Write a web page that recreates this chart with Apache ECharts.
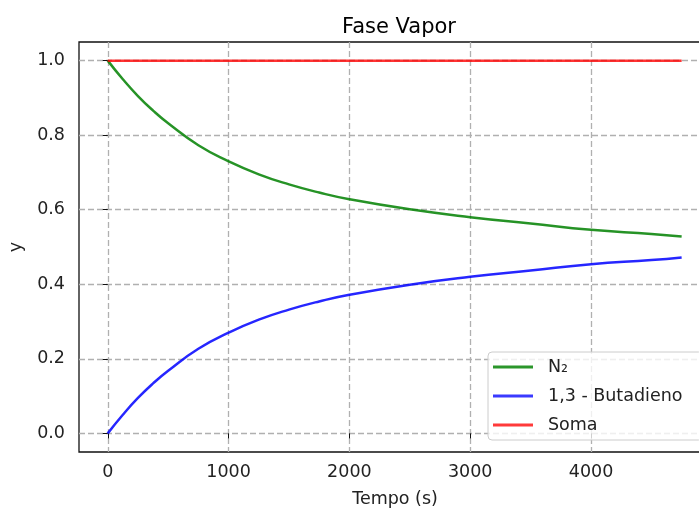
<!DOCTYPE html>
<html>
<head>
<meta charset="utf-8">
<script src="https://cdn.jsdelivr.net/npm/echarts@6/dist/echarts.min.js"></script>
<style>
  html, body { margin: 0; padding: 0; background: #fff; }
  #chart { width: 699px; height: 510px; }
</style>
</head>
<body>
<div id="chart"></div>
<script>
// tempo (s)
const tempo = [0, 125, 250, 375, 500, 750, 1000, 1250, 1500, 1750, 2000, 2500, 3000, 3500, 4000, 4500, 4750];
// fração molar na fase vapor
const yN2 = [1.000, 0.950, 0.905, 0.866, 0.832, 0.773, 0.730, 0.695, 0.668, 0.646, 0.628, 0.601, 0.580, 0.563, 0.546, 0.535, 0.528];
const yButadieno = [0.000, 0.050, 0.095, 0.134, 0.168, 0.227, 0.270, 0.305, 0.332, 0.354, 0.372, 0.399, 0.420, 0.437, 0.454, 0.465, 0.472];
const ySoma = [1, 1, 1, 1, 1, 1, 1, 1, 1, 1, 1, 1, 1, 1, 1, 1, 1];

const xTicks = [0, 1000, 2000, 3000, 4000];
const yTicks = [0, 0.2, 0.4, 0.6, 0.8, 1.0];

const pairs = (xs, ys) => xs.map((x, i) => [x, ys[i]]);

const chart = echarts.init(document.getElementById('chart'));

const font = 'DejaVu Sans';
const gridLine = { show: true, lineStyle: { color: '#b0b0b0', type: [6, 3], width: 1.3 } };

const option = {
  animation: false,
  title: {
    text: 'Fase Vapor',
    left: 394,
    top: 12,
    textAlign: 'center',
    textStyle: { fontFamily: font, fontSize: 21, fontWeight: 'normal', color: '#000' }
  },
  grid: {
    left: 79,
    top: 42,
    right: -12,
    bottom: 58,
    show: true,
    borderColor: '#111',
    borderWidth: 1.3,
    outerBoundsMode: 'none'
  },
  legend: {
    orient: 'vertical',
    left: 488,
    top: 352,
    padding: [6, 20, 6, 5],
    itemWidth: 40,
    itemHeight: 3,
    itemGap: 11,
    icon: 'rect',
    backgroundColor: 'rgba(255,255,255,0.8)',
    borderColor: '#cccccc',
    borderWidth: 1,
    borderRadius: 4,
    textStyle: { fontFamily: font, fontSize: 17.5, color: '#222', padding: [0, 0, 0, 10], lineHeight: 17.5 },
    data: ['N₂', '1,3 - Butadieno', 'Soma']
  },
  xAxis: {
    type: 'value',
    min: -238,
    max: 4993,
    splitNumber: 5,
    name: 'Tempo (s)',
    nameLocation: 'middle',
    nameGap: 38,
    nameTextStyle: { fontFamily: font, fontSize: 17.5, color: '#222' },
    axisLine: { show: false },
    axisTick: { show: true, length: 5, customValues: xTicks, lineStyle: { color: '#111' } },
    axisLabel: {
      fontFamily: font, fontSize: 17.5, color: '#222', margin: 11,
      customValues: xTicks,
      formatter: (v) => String(v)
    },
    splitLine: gridLine
  },
  yAxis: {
    type: 'value',
    min: -0.05,
    max: 1.05,
    splitNumber: 5,
    name: 'y',
    nameLocation: 'middle',
    nameGap: 54,
    nameTextStyle: { fontFamily: font, fontSize: 17.5, color: '#222' },
    axisLine: { show: false },
    axisTick: { show: true, length: 5, customValues: yTicks, lineStyle: { color: '#111' } },
    axisLabel: {
      fontFamily: font, fontSize: 17.5, color: '#222', margin: 14,
      customValues: yTicks,
      formatter: (v) => v.toFixed(1)
    },
    splitLine: gridLine
  },
  series: [
    {
      name: 'N₂',
      type: 'line',
      data: pairs(tempo, yN2),
      smooth: true,
      showSymbol: false,
      lineStyle: { color: '#008000', width: 2.5, opacity: 0.85 },
      itemStyle: { color: '#2b962b' }
    },
    {
      name: '1,3 - Butadieno',
      type: 'line',
      data: pairs(tempo, yButadieno),
      smooth: true,
      showSymbol: false,
      lineStyle: { color: '#0000ff', width: 2.5, opacity: 0.85 },
      itemStyle: { color: '#3a3aff' }
    },
    {
      name: 'Soma',
      type: 'line',
      data: pairs(tempo, ySoma),
      showSymbol: false,
      lineStyle: { color: '#ff0000', width: 2.5, opacity: 0.8 },
      itemStyle: { color: '#ff3a3a' }
    }
  ]
};

chart.setOption(option);

window.addEventListener('resize', () => {
  chart?.resize();
});
</script>
</body>
</html>
